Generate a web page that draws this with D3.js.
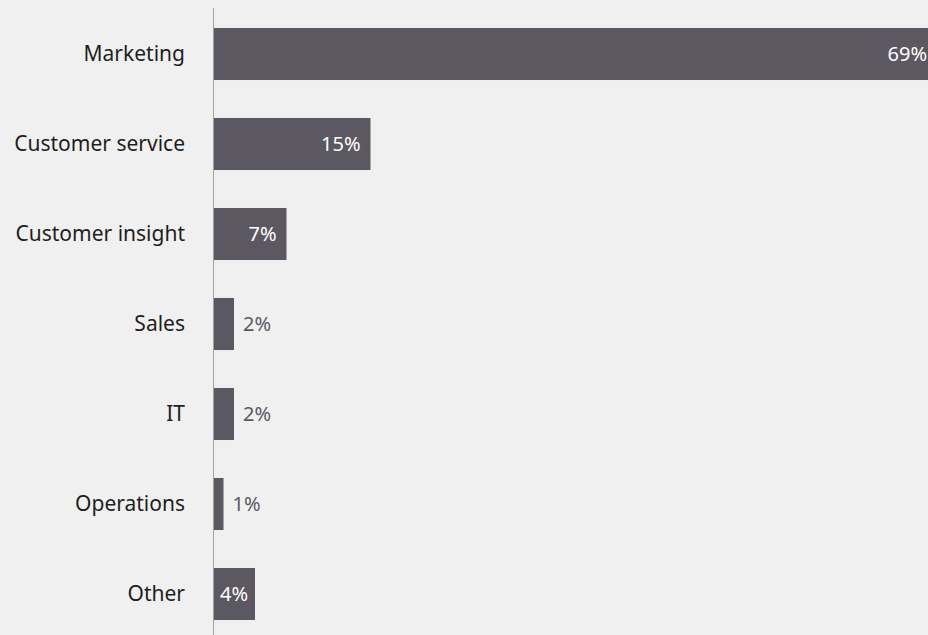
<!DOCTYPE html>
<html>
<head>
<meta charset="utf-8">
<script src="https://cdn.jsdelivr.net/npm/d3@7"></script>
<style>
  html, body { margin: 0; padding: 0; background: #f0f0f0; overflow: hidden; }
  text { font-family: "Noto Sans", sans-serif; font-weight: 400; }
</style>
</head>
<body>
<div id="grafiek"></div>
<script>
// data
const categories = ["Marketing", "Customer service", "Customer insight", "Sales", "IT", "Operations", "Other"];
const values = [69, 15, 7, 2, 2, 1, 4];

const width = 928;
const height = 635;
const margin = { top: 9, right: 0, bottom: 0, left: 213 };

const data = categories.map((c, i) => ({ cat: c, value: values[i] }));

const svg = d3.select("#grafiek")
  .append("svg")
  .attr("width", width)
  .attr("height", height);

// schalen (1% is ongeveer 10.5px)
const x = d3.scaleLinear().domain([0, 1]).range([margin.left, margin.left + 10.5]);
const y = d3.scaleBand()
  .domain(categories)
  .range([margin.top, 639])
  .paddingInner(0.422)
  .paddingOuter(0.211);

// balken
svg.selectAll("rect")
  .data(data)
  .join("rect")
  .attr("x", x(0))
  .attr("y", d => y(d.cat))
  .attr("width", d => x(d.value) - x(0))
  .attr("height", y.bandwidth())
  .attr("fill", "#5c5862");

// as lijn
svg.append("line")
  .attr("x1", x(0) + 0.5).attr("x2", x(0) + 0.5)
  .attr("y1", 8).attr("y2", height)
  .attr("stroke", "#a0a0a0")
  .attr("stroke-width", 1);

// categorie labels
svg.selectAll(".cat")
  .data(data)
  .join("text")
  .attr("class", "cat")
  .attr("x", 185)
  .attr("y", d => y(d.cat) + y.bandwidth() / 2)
  .attr("dy", "0.35em")
  .attr("text-anchor", "end")
  .attr("fill", "#1e1e1e")
  .style("font-size", "21px")
  .text(d => d.cat);

// waarde labels
const labels = svg.selectAll(".val")
  .data(data)
  .join("text")
  .attr("class", "val")
  .attr("y", d => y(d.cat) + y.bandwidth() / 2)
  .attr("dy", "0.35em")
  .style("font-size", "20px")
  .text(d => d.value + "%");

labels.each(function (d) {
  const t = d3.select(this);
  const tw = this.getComputedTextLength();
  const barW = x(d.value) - x(0);
  if (tw + 20 <= barW) {
    t.attr("x", Math.min(x(d.value) - 10, width - 1)).attr("text-anchor", "end").attr("fill", "#ffffff");
  } else if (tw + 4 <= barW) {
    t.attr("x", x(0) + barW / 2).attr("text-anchor", "middle").attr("fill", "#ffffff");
  } else {
    t.attr("x", x(d.value) + 9).attr("text-anchor", "start").attr("fill", "#5c5862");
  }
});
</script>
</body>
</html>
